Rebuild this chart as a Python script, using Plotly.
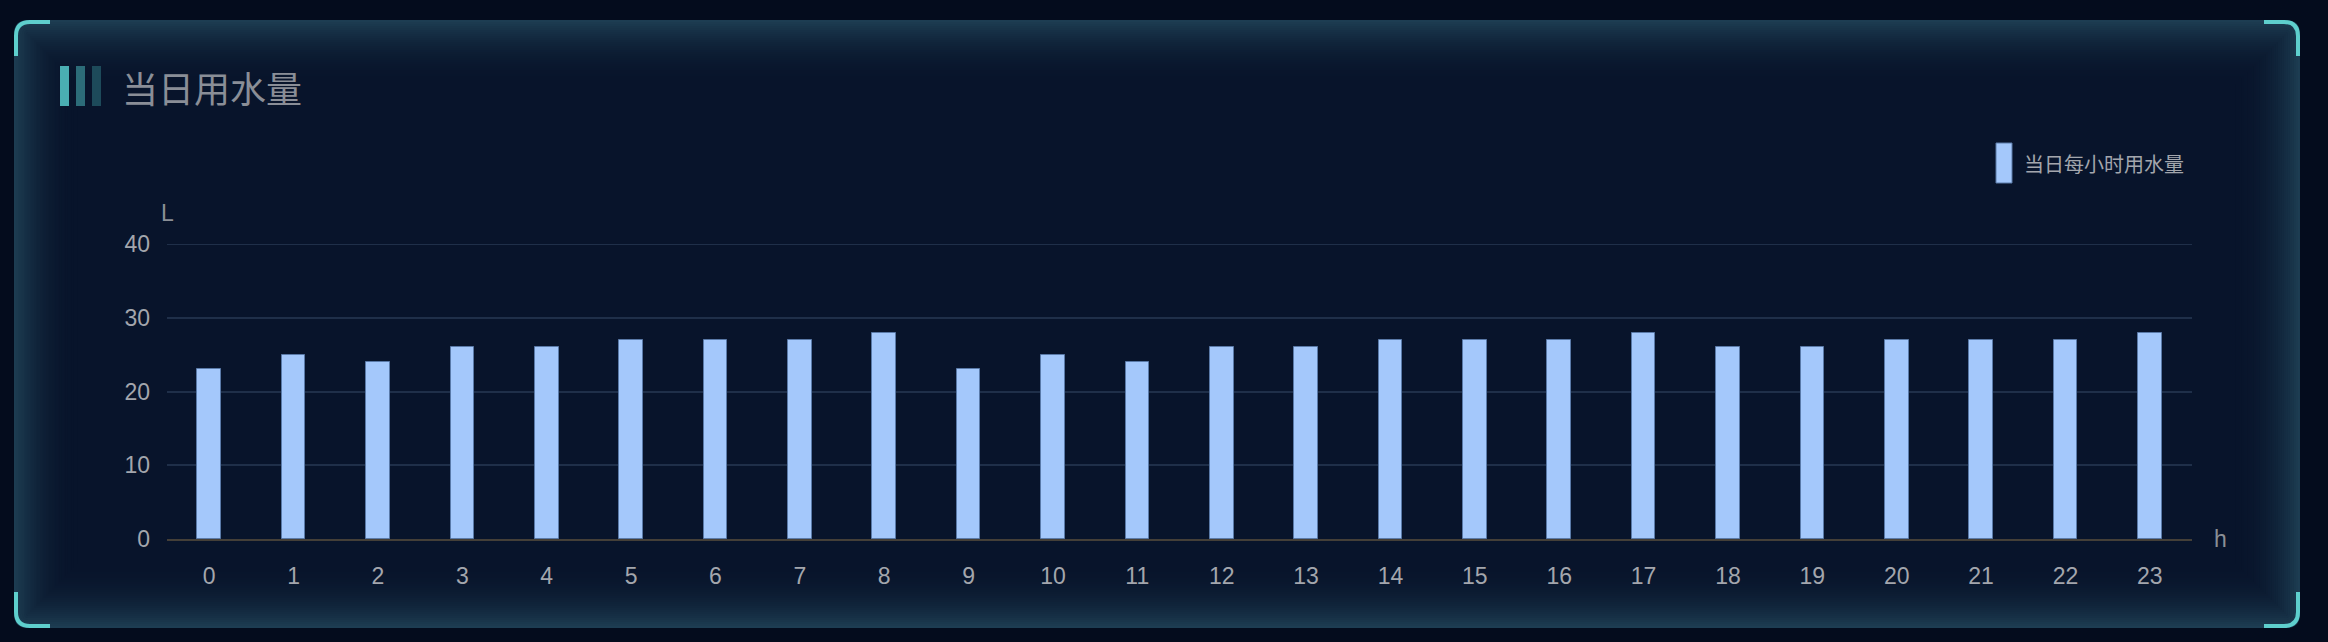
import plotly.graph_objects as go

# ---- data ----
hours = [str(h) for h in range(24)]
water_litres = [23, 25, 24, 26, 26, 27, 27, 27, 28, 23, 25, 24,
                26, 26, 27, 27, 27, 28, 26, 26, 27, 27, 27, 28]
y_ticks = [0, 10, 20, 30, 40]
title_text = "当日用水量"
legend_text = "当日每小时用水量"
y_unit = "L"
x_unit = "h"

# ---- geometry (screen pixels; page body has an 8px margin) ----
OFF = 8
SW, SH = 2328, 642
W, H = SW - OFF, SH - OFF
PL, PR, PT, PB = 167, 2192, 244, 539
ML = PL - OFF
MT = PT - OFF
MR = SW - PR
MB = SH - PB
PW, PH = W - ML - MR, H - MT - MB


def px(x):
    return (x - PL) / PW


def py(y):
    return (PB - y) / PH


def rrect_path(x0, y0, x1, y1, r):
    r = max(r, 0.1)
    pts = [
        ("M", (x0 + r, y0)), ("L", (x1 - r, y0)), ("Q", (x1, y0), (x1, y0 + r)),
        ("L", (x1, y1 - r)), ("Q", (x1, y1), (x1 - r, y1)),
        ("L", (x0 + r, y1)), ("Q", (x0, y1), (x0, y1 - r)),
        ("L", (x0, y0 + r)), ("Q", (x0, y0), (x0 + r, y0)),
    ]
    s = ""
    for p in pts:
        coords = " ".join(f"{px(a):.6f},{py(b):.6f}" for a, b in p[1:])
        s += f"{p[0]} {coords} "
    return s + "Z"


def hexmix(c1, c2, t):
    a = [int(c1[i:i + 2], 16) for i in (1, 3, 5)]
    b = [int(c2[i:i + 2], 16) for i in (1, 3, 5)]
    m = [round(a[k] + (b[k] - a[k]) * t) for k in range(3)]
    return "#%02x%02x%02x" % tuple(m)


shapes = []
PX0, PY0, PX1, PY1, R = 14, 20, 2300, 628, 14
EDGE, INNER = "#1d3d52", "#08142b"
FADE, STEP = 64, 2
for d in range(0, FADE + 1, STEP):
    t = d / FADE
    col = hexmix(INNER, EDGE, (1 - t) ** 2.2)
    shapes.append(dict(type="path", xref="paper", yref="paper", layer="below",
                       path=rrect_path(PX0 + d, PY0 + d, PX1 - d, PY1 - d, max(R - d, 0)),
                       fillcolor=col, line=dict(width=0)))

# corner brackets
BC = "#5ecfcd"
bw = 4
o = bw / 2
x0, y0, x1, y1 = PX0 + o, PY0 + o, PX1 - o, PY1 - o
rc = 14
L = 36


def seg_path(points):
    s = ""
    for cmd, *cs in points:
        s += cmd + " " + " ".join(f"{px(a):.6f},{py(b):.6f}" for a, b in cs) + " "
    return s


corners = [
    [("M", (x0, PY0 + L)), ("L", (x0, y0 + rc)), ("Q", (x0, y0), (x0 + rc, y0)), ("L", (PX0 + L, y0))],
    [("M", (PX1 - L, y0)), ("L", (x1 - rc, y0)), ("Q", (x1, y0), (x1, y0 + rc)), ("L", (x1, PY0 + L))],
    [("M", (x1, PY1 - L)), ("L", (x1, y1 - rc)), ("Q", (x1, y1), (x1 - rc, y1)), ("L", (PX1 - L, y1))],
    [("M", (PX0 + L, y1)), ("L", (x0 + rc, y1)), ("Q", (x0, y1), (x0, y1 - rc)), ("L", (x0, PY1 - L))],
]
for c in corners:
    shapes.append(dict(type="path", xref="paper", yref="paper", layer="above",
                       path=seg_path(c), line=dict(color=BC, width=bw)))

# title bars
for (bx, col) in [(60, "#4aaeb3"), (76, "#2c6c79"), (92, "#1d4a5a")]:
    shapes.append(dict(type="rect", xref="paper", yref="paper", layer="above",
                       x0=px(bx), x1=px(bx + 9), y0=py(106), y1=py(66),
                       fillcolor=col, line=dict(width=0)))

# legend marker
shapes.append(dict(type="rect", xref="paper", yref="paper", layer="above",
                   x0=px(1996), x1=px(2012), y0=py(183), y1=py(143),
                   fillcolor="#a4c8fb", line=dict(color="#5a7aa8", width=1)))

# top gridline (at range edge)
shapes.append(dict(type="line", xref="paper", yref="y", layer="below",
                   x0=0, x1=1, y0=40, y1=40, line=dict(color="#1f2f49", width=2)))

annotations = [
    dict(text=title_text, xref="paper", yref="paper", x=px(120), y=py(87),
         xanchor="left", yanchor="middle", showarrow=False,
         font=dict(size=36, color="#8a8e97", family="Noto Sans CJK SC")),
    dict(text=legend_text, xref="paper", yref="paper", x=px(2022), y=py(163),
         xanchor="left", yanchor="middle", showarrow=False,
         font=dict(size=20, color="#a3a6ad", family="Noto Sans CJK SC")),
    dict(text=y_unit, xref="paper", yref="paper", x=px(167), y=py(213),
         xanchor="center", yanchor="middle", showarrow=False,
         font=dict(size=23, color="#8b8f96", family="Liberation Sans")),
    dict(text=x_unit, xref="paper", yref="paper", x=px(2212), y=py(539),
         xanchor="left", yanchor="middle", showarrow=False,
         font=dict(size=23, color="#8b8f96", family="Liberation Sans")),
]

fig = go.Figure()
fig.add_trace(go.Bar(
    x=hours, y=water_litres, name=legend_text, width=0.28,
    marker=dict(color="#a4c8fb", line=dict(color="#5a7aa8", width=1)),
    showlegend=False,
))

fig.update_layout(
    width=W, height=H,
    margin=dict(l=ML, r=MR, t=MT, b=MB, pad=0),
    paper_bgcolor="#040c1d",
    plot_bgcolor="rgba(0,0,0,0)",
    shapes=shapes,
    annotations=annotations,
    bargap=0,
    font=dict(family="Liberation Sans", color="#a3a6ad"),
    xaxis=dict(
        type="category", showgrid=False, zeroline=False,
        showline=True, linecolor="#443f38", linewidth=2,
        ticks="", tickfont=dict(size=23, color="#a3a6ad"),
        ticklabelstandoff=15, fixedrange=True,
    ),
    yaxis=dict(
        range=[0, 40], tickvals=y_ticks, showgrid=True, gridcolor="#1f2f49",
        gridwidth=2, zeroline=False, showline=False, ticks="",
        tickfont=dict(size=23, color="#a3a6ad"), ticklabelstandoff=16,
        fixedrange=True,
    ),
)

fig.write_html("out.html", post_script="document.body.style.background='#040c1d';")
